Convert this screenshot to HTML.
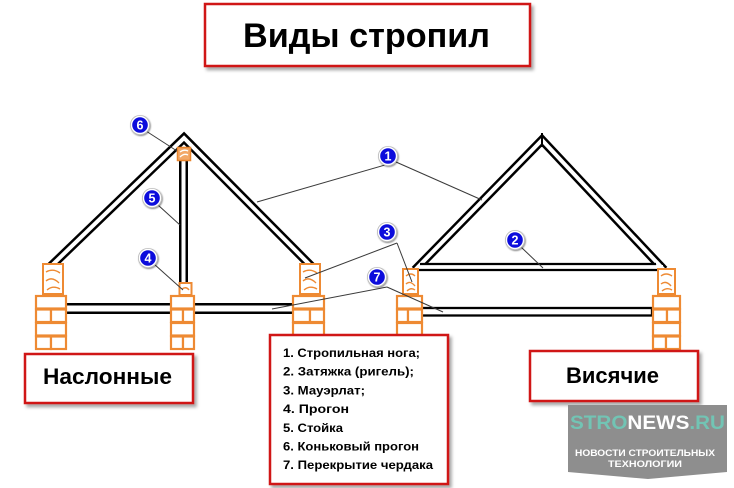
<!DOCTYPE html>
<html>
<head>
<meta charset="utf-8">
<style>
  html,body{margin:0;padding:0;background:#fff;}
  svg{display:block;}
  text{font-family:"Liberation Sans","DejaVu Sans",sans-serif;font-weight:bold;}
</style>
</head>
<body>
<svg width="734" height="488" viewBox="0 0 734 488" xmlns="http://www.w3.org/2000/svg">
  <defs>
    <filter id="sh" x="-10%" y="-10%" width="130%" height="140%">
      <feDropShadow dx="2.5" dy="3" stdDeviation="1.6" flood-color="#000" flood-opacity="0.35"/>
    </filter>
    <filter id="csh" x="-40%" y="-40%" width="180%" height="180%">
      <feDropShadow dx="0.8" dy="1" stdDeviation="0.8" flood-color="#000" flood-opacity="0.45"/>
    </filter>
    <clipPath id="clipL"><rect x="0" y="0" width="734" height="264.5"/></clipPath>
    <clipPath id="clipR"><rect x="0" y="0" width="734" height="271"/></clipPath>
  </defs>

  <!-- Title -->
  <rect x="205" y="4" width="325" height="62" fill="#fff" stroke="#d01515" stroke-width="2.5" filter="url(#sh)"/>
  <text x="243" y="47" font-size="34" textLength="247" lengthAdjust="spacingAndGlyphs" fill="#000">Виды стропил</text>

  <!-- LEFT ROOF rafters -->
  <g clip-path="url(#clipL)">
    <polyline points="47,270 184,138 315,270" fill="none" stroke="#000" stroke-width="9" stroke-linejoin="miter" stroke-miterlimit="10"/>
    <polyline points="47,270 184,138 315,270" fill="none" stroke="#fff" stroke-width="4" stroke-linejoin="miter" stroke-miterlimit="10"/>
  </g>
  <!-- stud -->
  <rect x="179" y="159" width="9" height="124" fill="#000"/>
  <rect x="181.5" y="159" width="4" height="124" fill="#fff"/>
  <!-- ridge purlin -->
  <rect x="177.5" y="147.5" width="13" height="13" fill="#f2a868" stroke="#e8842c" stroke-width="1.5"/>
  <path d="M180,152 Q184,149 188,151 M180,157 Q184,153 188,155" stroke="#fff" stroke-width="1.3" fill="none"/>

  <!-- left floor beams -->
  <rect x="66" y="303" width="105" height="11" fill="#000"/>
  <rect x="66" y="305.5" width="105" height="6" fill="#fff"/>
  <rect x="194" y="303" width="99" height="11" fill="#000"/>
  <rect x="194" y="305.5" width="99" height="6" fill="#fff"/>

  <!-- RIGHT ROOF -->
  <g clip-path="url(#clipR)">
    <polyline points="415,270 542,140 664,270" fill="none" stroke="#000" stroke-width="9" stroke-linejoin="miter" stroke-miterlimit="10"/>
    <polyline points="415,270 542,140 664,270" fill="none" stroke="#fff" stroke-width="4" stroke-linejoin="miter" stroke-miterlimit="10"/>
  </g>
  <line x1="542" y1="133" x2="542" y2="147" stroke="#000" stroke-width="2"/>
  <!-- tie beam -->
  <rect x="417" y="265" width="246" height="4" fill="#fff"/>
  <line x1="420" y1="264" x2="656" y2="264" stroke="#000" stroke-width="2.2"/>
  <line x1="411" y1="270" x2="668" y2="270" stroke="#000" stroke-width="2.2"/>
  <!-- right floor beam -->
  <rect x="421" y="308" width="231" height="7.5" fill="#fff" stroke="#000" stroke-width="2.3"/>

  <!-- wood blocks (mauerlat) -->
  <g fill="#fff" stroke="#ee8a33" stroke-width="2">
    <rect x="43" y="264" width="20" height="30"/>
    <rect x="300" y="264" width="20" height="30"/>
    <rect x="179.5" y="283" width="12" height="12"/>
    <rect x="403" y="269" width="15" height="25"/>
    <rect x="658" y="269" width="17" height="25"/>
  </g>
  <g fill="none" stroke="#ee8a33" stroke-width="1.4">
    <path d="M46,272 Q53,268 60,273 M46,281 Q52,276 59,283 M47,290 Q53,285 60,289"/>
    <path d="M303,272 Q310,268 317,273 M303,281 Q309,276 316,283 M304,290 Q310,285 317,289"/>
    <path d="M182,289 Q186,286 189,290"/>
    <path d="M406,276 Q411,272 415,276 M406,284 Q410,280 415,286 M407,291 Q411,287 415,290"/>
    <path d="M661,276 Q666,272 672,276 M661,284 Q666,280 671,286 M662,291 Q667,287 672,290"/>
  </g>

  <!-- bricks -->
  <g fill="#fff" stroke="#ee8a33" stroke-width="2.2">
    <!-- left column 35-67 -->
    <rect x="36" y="296" width="30" height="12.5"/>
    <rect x="36" y="309.5" width="15" height="12.5"/>
    <rect x="51" y="309.5" width="15" height="12.5"/>
    <rect x="36" y="323" width="30" height="12.5"/>
    <rect x="36" y="336.5" width="15" height="12.5"/>
    <rect x="51" y="336.5" width="15" height="12.5"/>
    <!-- mid column 170-195 -->
    <rect x="171" y="296" width="23" height="12.5"/>
    <rect x="171" y="309.5" width="12" height="12.5"/>
    <rect x="183" y="309.5" width="11" height="12.5"/>
    <rect x="171" y="323" width="23" height="12.5"/>
    <rect x="171" y="336.5" width="12" height="12.5"/>
    <rect x="183" y="336.5" width="11" height="12.5"/>
    <!-- col 292-325 -->
    <rect x="293" y="296" width="31" height="12.5"/>
    <rect x="293" y="309.5" width="17" height="12.5"/>
    <rect x="310" y="309.5" width="14" height="12.5"/>
    <rect x="293" y="323" width="31" height="12.5"/>
    <!-- col 397-422 -->
    <rect x="397" y="296" width="25" height="12.5"/>
    <rect x="397" y="309.5" width="11" height="12.5"/>
    <rect x="408" y="309.5" width="14" height="12.5"/>
    <rect x="397" y="323" width="25" height="12.5"/>
    <!-- right col 652-680 -->
    <rect x="653" y="296" width="27" height="12.5"/>
    <rect x="653" y="309.5" width="14" height="12.5"/>
    <rect x="667" y="309.5" width="13" height="12.5"/>
    <rect x="653" y="323" width="27" height="12.5"/>
    <rect x="653" y="336.5" width="13" height="12.5"/>
    <rect x="666" y="336.5" width="14" height="12.5"/>
  </g>

  <!-- leader lines -->
  <g stroke="#3a3a3a" stroke-width="1" fill="none">
    <line x1="146" y1="131" x2="177" y2="151"/>
    <line x1="158" y1="205" x2="180" y2="225"/>
    <line x1="154" y1="264" x2="183" y2="290"/>
    <line x1="257" y1="202" x2="385" y2="165"/>
    <line x1="396" y1="162" x2="482" y2="200"/>
    <line x1="305" y1="278" x2="397" y2="243"/>
    <line x1="397" y1="243" x2="412" y2="282"/>
    <line x1="272" y1="309" x2="387" y2="287"/>
    <line x1="387" y1="287" x2="443" y2="312"/>
    <line x1="521" y1="247" x2="543" y2="268"/>
  </g>

  <!-- number markers -->
  <g font-size="12.5" fill="#fff" text-anchor="middle">
    <g transform="translate(140,125)"><circle r="10" fill="#b8b8b8" filter="url(#csh)"/><circle r="9.2" fill="#fff"/><circle r="7.8" fill="#0c0cdc"/><text y="4.5" fill="#fff">6</text></g>
    <g transform="translate(152,198)"><circle r="10" fill="#b8b8b8" filter="url(#csh)"/><circle r="9.2" fill="#fff"/><circle r="7.8" fill="#0c0cdc"/><text y="4.5" fill="#fff">5</text></g>
    <g transform="translate(148,258)"><circle r="10" fill="#b8b8b8" filter="url(#csh)"/><circle r="9.2" fill="#fff"/><circle r="7.8" fill="#0c0cdc"/><text y="4.5" fill="#fff">4</text></g>
    <g transform="translate(388,156)"><circle r="10" fill="#b8b8b8" filter="url(#csh)"/><circle r="9.2" fill="#fff"/><circle r="7.8" fill="#0c0cdc"/><text y="4.5" fill="#fff">1</text></g>
    <g transform="translate(387,232)"><circle r="10" fill="#b8b8b8" filter="url(#csh)"/><circle r="9.2" fill="#fff"/><circle r="7.8" fill="#0c0cdc"/><text y="4.5" fill="#fff">3</text></g>
    <g transform="translate(377,277)"><circle r="10" fill="#b8b8b8" filter="url(#csh)"/><circle r="9.2" fill="#fff"/><circle r="7.8" fill="#0c0cdc"/><text y="4.5" fill="#fff">7</text></g>
    <g transform="translate(515,240)"><circle r="10" fill="#b8b8b8" filter="url(#csh)"/><circle r="9.2" fill="#fff"/><circle r="7.8" fill="#0c0cdc"/><text y="4.5" fill="#fff">2</text></g>
  </g>

  <!-- Label boxes -->
  <rect x="25" y="354" width="168" height="49" fill="#fff" stroke="#d01515" stroke-width="2.5" filter="url(#sh)"/>
  <text x="43" y="384" font-size="22" textLength="129" lengthAdjust="spacingAndGlyphs" fill="#000">Наслонные</text>

  <rect x="530" y="351" width="168" height="50" fill="#fff" stroke="#d01515" stroke-width="2.5" filter="url(#sh)"/>
  <text x="566" y="383" font-size="22" textLength="93" lengthAdjust="spacingAndGlyphs" fill="#000">Висячие</text>

  <!-- Legend -->
  <rect x="270" y="335" width="178" height="149" fill="#fff" stroke="#d01515" stroke-width="2.5" filter="url(#sh)"/>
  <g font-size="12" fill="#000">
    <text x="283" y="357" textLength="137" lengthAdjust="spacingAndGlyphs">1. Стропильная нога;</text>
    <text x="283" y="375.7" textLength="131" lengthAdjust="spacingAndGlyphs">2. Затяжка (ригель);</text>
    <text x="283" y="394.4" textLength="82" lengthAdjust="spacingAndGlyphs">3. Мауэрлат;</text>
    <text x="283" y="413" textLength="66" lengthAdjust="spacingAndGlyphs">4. Прогон</text>
    <text x="283" y="431.8" textLength="60" lengthAdjust="spacingAndGlyphs">5. Стойка</text>
    <text x="283" y="450.5" textLength="136" lengthAdjust="spacingAndGlyphs">6. Коньковый прогон</text>
    <text x="283" y="469.2" textLength="150" lengthAdjust="spacingAndGlyphs">7. Перекрытие чердака</text>
  </g>

  <!-- Watermark -->
  <polygon points="568,405 727,405 727,472 648,479 568,472" fill="#8e8e8e"/>
  <text x="570" y="429" font-size="19" textLength="155" lengthAdjust="spacingAndGlyphs"><tspan fill="#72c4b4">STRO</tspan><tspan fill="#ffffff">NEWS</tspan><tspan fill="#72c4b4">.RU</tspan></text>
  <text x="575" y="456" font-size="9.5" fill="#fff" textLength="140" lengthAdjust="spacingAndGlyphs">НОВОСТИ СТРОИТЕЛЬНЫХ</text>
  <text x="608" y="467" font-size="9.5" fill="#fff" textLength="74" lengthAdjust="spacingAndGlyphs">ТЕХНОЛОГИИ</text>
</svg>
</body>
</html>
